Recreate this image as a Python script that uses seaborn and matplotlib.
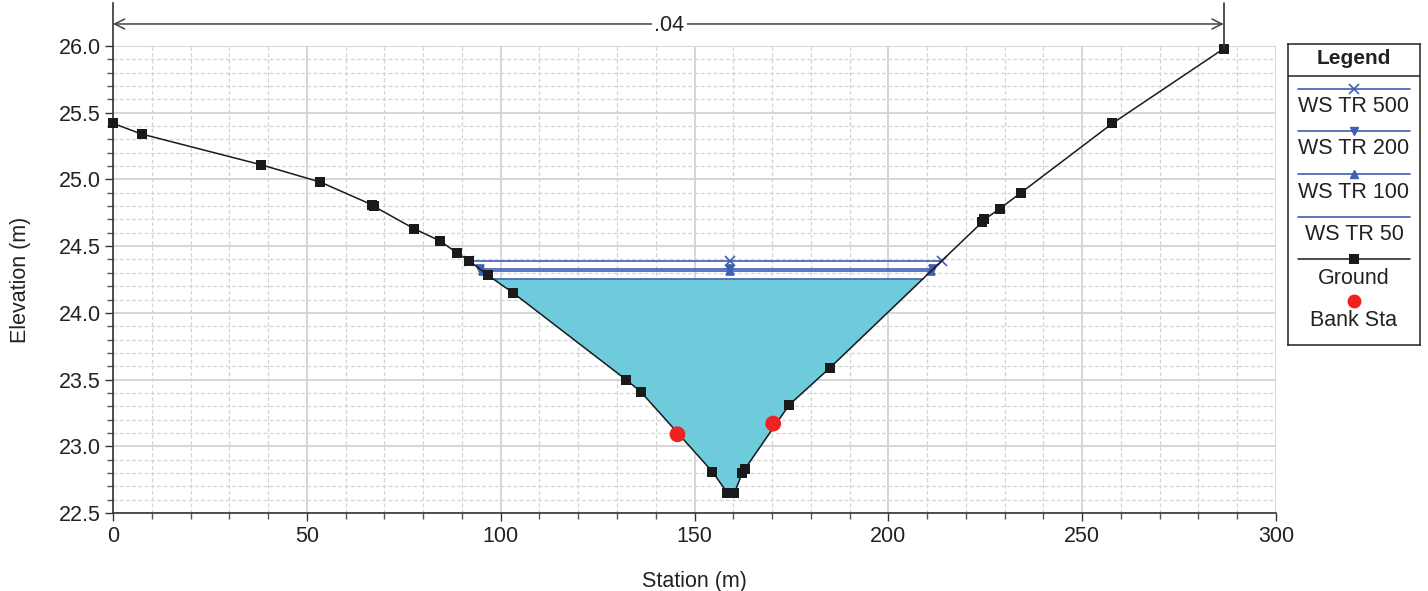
import numpy as np
import pandas as pd
import seaborn as sns
import matplotlib.pyplot as plt
from matplotlib.ticker import MultipleLocator

# Ground profile (station m, elevation m)
station = [0.0, 7.4, 38.2, 53.5, 66.8, 67.2, 77.7, 84.3, 88.7, 91.9, 96.8, 103.2,
           132.3, 136.1, 154.6, 158.5, 160.3, 162.3, 163.0, 174.4, 185.0,
           224.2, 224.8, 228.7, 234.2, 257.8, 286.5]
elevation = [25.42, 25.34, 25.11, 24.98, 24.81, 24.80, 24.63, 24.54, 24.45, 24.39, 24.28, 24.15,
             23.50, 23.41, 22.81, 22.65, 22.65, 22.80, 22.83, 23.31, 23.59,
             24.68, 24.70, 24.78, 24.90, 25.42, 25.98]

# Bank stations
bank_sta = [145.6, 170.3]
bank_elev = [23.09, 23.17]

# Water surfaces
ws_names = ["WS TR 500", "WS TR 200", "WS TR 100", "WS TR 50"]
ws_elev = [24.385, 24.33, 24.31, 24.255]
ws_left = [91.9, 94.6, 95.5, 97.9]
ws_mid = [159.2, 159.2, 159.2, 159.2]
ws_right = [213.8, 211.6, 210.9, 208.9]
ws_markers = ["x", "v", "^", None]

n_value = ".04"
n_left, n_right = 0.0, 286.5

ws_color = "#3f5fb5"
fill_color = "#6dcbdb"
font = ["Liberation Sans", "DejaVu Sans"]
fs = 15.5

sns.set_style("white")
plt.rcParams["font.family"] = font

fig = plt.figure(figsize=(14.28, 5.91), dpi=100)
ax = fig.add_axes([113 / 1428, 1 - 513 / 591, 1163 / 1428, 467 / 591])

ground = pd.DataFrame({"Station": station, "Elevation": elevation})

# water fill under lowest profile
ws50 = ws_elev[3]
el = np.array(elevation)
ax.fill_between(station, elevation, ws50, where=el <= ws50, interpolate=True,
                color=fill_color, lw=0, zorder=1)

for name, e, l, m, r, mk in zip(ws_names, ws_elev, ws_left, ws_mid, ws_right, ws_markers):
    d = pd.DataFrame({"x": [l, m, r], "y": [e, e, e]})
    kw = dict(marker=mk, markersize=7, markeredgewidth=1.2) if mk else {}
    if mk == "x":
        kw.update(markerfacecolor="none", markeredgecolor=ws_color)
    elif mk:
        kw.update(markerfacecolor=ws_color, markeredgecolor=ws_color, markersize=6)
    sns.lineplot(data=d, x="x", y="y", ax=ax, color=ws_color, lw=1.2,
                 sort=False, zorder=3, **kw)

sns.lineplot(data=ground, x="Station", y="Elevation", ax=ax, color="#1a1a1a",
             lw=1.1, marker="s", markersize=6.5, markeredgewidth=0,
             markerfacecolor="#1a1a1a", sort=False, zorder=4, clip_on=False)
sns.scatterplot(x=bank_sta, y=bank_elev, ax=ax, color="#ee2222", s=130,
                edgecolor="none", zorder=5)

ax.set_xlim(0, 300)
ax.set_ylim(22.5, 26.0)
ax.xaxis.set_major_locator(MultipleLocator(50))
ax.xaxis.set_minor_locator(MultipleLocator(10))
ax.yaxis.set_major_locator(MultipleLocator(0.5))
ax.yaxis.set_minor_locator(MultipleLocator(0.1))
ax.yaxis.set_major_formatter(plt.FormatStrFormatter("%.1f"))
ax.grid(which="major", color="#d3d3d3", lw=1.3, ls="-", zorder=0)
ax.grid(which="minor", color="#d3d3d3", lw=0.9, ls=(0, (3, 2)), zorder=0)
ax.set_axisbelow(True)
ax.tick_params(which="major", direction="out", length=6, width=1, color="#333333",
               labelsize=fs, labelcolor="#222222", bottom=True, left=True, pad=3)
ax.tick_params(which="minor", direction="out", length=4, width=1, color="#555555",
               bottom=True, left=True)
for s in ["top", "right"]:
    ax.spines[s].set_visible(False)
for s in ["left", "bottom"]:
    ax.spines[s].set_color("#333333")
    ax.spines[s].set_linewidth(1.2)
ax.spines["left"].set_bounds(22.5, 26.322)

ax.set_xlabel("Station (m)", fontsize=fs, color="#222222", labelpad=18)
ax.set_ylabel("Elevation (m)", fontsize=fs, color="#222222", labelpad=20)

# Manning's n dimension line
y_dim = 26.165
ax.plot([n_right, n_right], [elevation[-1], 26.322], color="#333333", lw=1.2,
        clip_on=False, zorder=4)
ax.annotate("", xy=(n_left, y_dim), xytext=(n_right, y_dim),
            arrowprops=dict(arrowstyle="<->", color="#444444", lw=1.1,
                            mutation_scale=18, shrinkA=0, shrinkB=0),
            annotation_clip=False)
ax.text((n_left + n_right) / 2 + 0.3, y_dim - 0.01, n_value, ha="center", va="center",
        fontsize=fs, color="#222222",
        bbox=dict(facecolor="white", edgecolor="none", pad=2), clip_on=False)

# Legend box
lax = fig.add_axes([1288 / 1428, 1 - 345 / 591, 132 / 1428, 301 / 591])
lax.set_xlim(1288, 1420)
lax.set_ylim(345, 44)
lax.set_xticks([])
lax.set_yticks([])
for s in lax.spines.values():
    s.set_color("#222222")
    s.set_linewidth(1.1)
lax.axhline(76, color="#222222", lw=1.1)
lax.text(1354, 59, "Legend", ha="center", va="center", fontsize=15, fontweight="bold",
         color="#222222")
rows = [89, 131, 174, 217, 259, 301]
for i, (name, mk) in enumerate(zip(ws_names, ws_markers)):
    y = rows[i]
    lax.plot([1298, 1410], [y, y], color=ws_color, lw=1.2)
    if mk == "x":
        lax.plot([1354], [y], marker="x", color=ws_color, ms=7, mew=1.2)
    elif mk:
        lax.plot([1354], [y], marker=mk, color=ws_color, ms=6)
    lax.text(1354, y + 18, name, ha="center", va="center", fontsize=fs, color="#222222")
lax.plot([1298, 1410], [rows[4], rows[4]], color="#1a1a1a", lw=1.1)
lax.plot([1354], [rows[4]], marker="s", color="#1a1a1a", ms=6.5, mew=0)
lax.text(1354, rows[4] + 19, "Ground", ha="center", va="center", fontsize=fs, color="#222222")
lax.plot([1354], [rows[5]], marker="o", color="#ee2222", ms=10, mew=0)
lax.text(1354, rows[5] + 19, "Bank Sta", ha="center", va="center", fontsize=fs, color="#222222")

fig.savefig("out.png", dpi=100)
